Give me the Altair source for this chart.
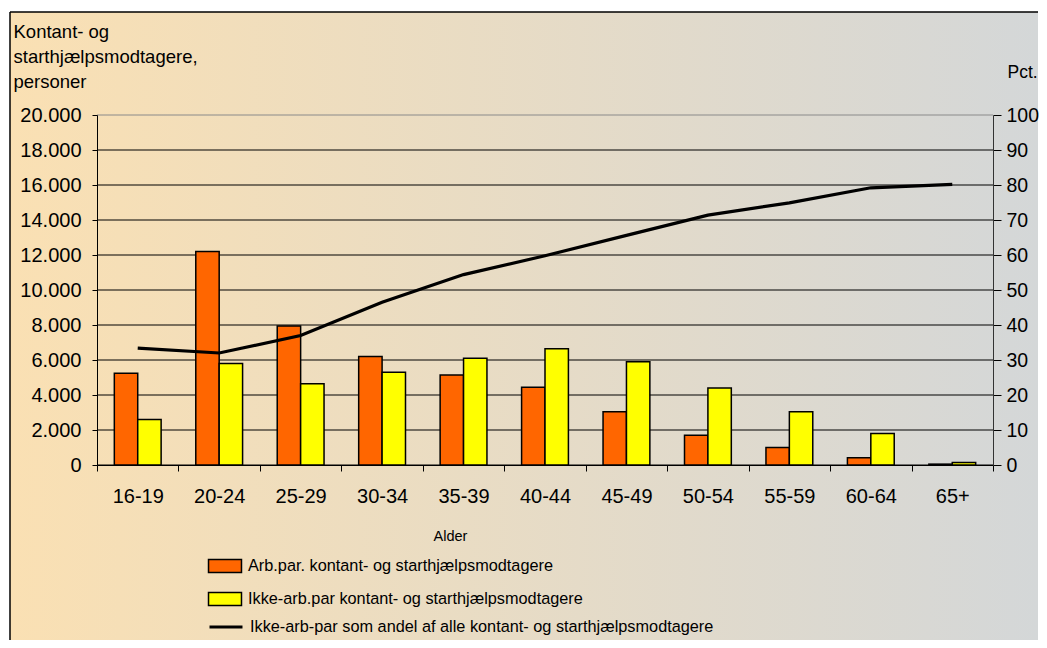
import altair as alt
import pandas as pd

ages = ["16-19", "20-24", "25-29", "30-34", "35-39", "40-44", "45-49", "50-54", "55-59", "60-64", "65+"]
arb = [5250, 12200, 7950, 6200, 5150, 4450, 3050, 1700, 1000, 420, 50]
ikke = [2600, 5800, 4650, 5300, 6100, 6650, 5900, 4400, 3050, 1800, 140]
pct = [33.4, 32.0, 37.0, 46.5, 54.4, 59.8, 65.6, 71.4, 74.9, 79.2, 80.2]

series_names = ["Arb.par. kontant- og starthjælpsmodtagere",
                "Ikke-arb.par kontant- og starthjælpsmodtagere"]
line_name = "Ikke-arb-par som andel af alle kontant- og starthjælpsmodtagere"
bar_colors = ["#FF6600", "#FFFF00"]
left_ticks = list(range(0, 20001, 2000))
right_ticks = list(range(0, 101, 10))
y_title = ["Kontant- og", "starthjælpsmodtagere,", "personer"]

FONT = "Liberation Sans"
W, H = 896, 350
BOTTOM = 525
RIGHT = 941

bars_df = pd.DataFrame({
    "age": ages * 2,
    "series": [series_names[0]] * len(ages) + [series_names[1]] * len(ages),
    "value": arb + ikke,
})
line_df = pd.DataFrame({"age": ages, "series": [line_name] * len(ages), "pct": pct})
grid_df = pd.DataFrame({"v": left_ticks})
one_df = pd.DataFrame({"k": [0]})

gradient = {
    "gradient": "linear", "x1": 0, "x2": 1, "y1": 0, "y2": 0,
    "stops": [{"offset": 0, "color": "#FAE0B3"}, {"offset": 1, "color": "#D4D7D8"}],
}

bg = alt.Chart(one_df).mark_rect(fill=gradient).encode(
    x=alt.value(-87), x2=alt.value(RIGHT), y=alt.value(-103), y2=alt.value(BOTTOM))
border_left = alt.Chart(one_df).mark_rule(color="black", strokeWidth=1.5).encode(
    x=alt.value(-87), y=alt.value(-103), y2=alt.value(BOTTOM))
border_top = alt.Chart(one_df).mark_rule(color="black", strokeWidth=1.5).encode(
    x=alt.value(-87), x2=alt.value(RIGHT), y=alt.value(-103))

x_enc = alt.X(
    "age:N", sort=ages,
    scale=alt.Scale(paddingInner=0, paddingOuter=0),
    axis=alt.Axis(
        title="Alder", labelAngle=0, tickBand="extent", labelFontSize=20,
        labelPadding=15, tickSize=6, titleFontSize=14.5, titleFontWeight="normal",
        titleX=353, titleY=75, titleBaseline="alphabetic", domainColor="black",
        tickColor="black", labelColor="black", titleColor="black", grid=False, zindex=1,
    ),
)

grid = alt.Chart(grid_df).mark_rule(strokeWidth=1).encode(
    y=alt.Y("v:Q", scale=alt.Scale(domain=[0, 20000], nice=False), axis=None),
    color=alt.condition("datum.v == 20000", alt.value("#8a8a8a"), alt.value("black")),
)

bars = alt.Chart(bars_df).mark_bar(stroke="black", strokeWidth=1.5).encode(
    x=x_enc,
    xOffset=alt.XOffset("series:N", sort=series_names,
                        scale=alt.Scale(paddingOuter=0.74, paddingInner=0)),
    y=alt.Y(
        "value:Q", scale=alt.Scale(domain=[0, 20000], nice=False),
        axis=alt.Axis(
            orient="left", title=y_title, values=left_ticks,
            labelExpr="replace(format(datum.value, ','), ',', '.')",
            labelFontSize=20, labelPadding=11, tickSize=5, grid=False,
            titleAngle=0, titleAlign="left", titleBaseline="alphabetic",
            titleX=-84, titleY=-78, titleFontSize=18.5, titleFontWeight="normal",
            titleLineHeight=25, domainColor="black", tickColor="black",
            labelColor="black", titleColor="black", zindex=1,
        ),
    ),
    fill=alt.Fill(
        "series:N", sort=series_names,
        scale=alt.Scale(domain=series_names, range=bar_colors),
        legend=alt.Legend(
            title=None, orient="none", legendX=119, legendY=442, direction="vertical",
            labelFontSize=16.3, labelFont=FONT, labelColor="black", labelLimit=800,
            symbolType="M-2,-0.8L2,-0.8L2,0.8L-2,0.8Z", symbolSize=272,
            symbolStrokeColor="black", symbolStrokeWidth=1.5, symbolOpacity=1,
            labelOffset=14, rowPadding=13, padding=0,
        ),
    ),
)

line = alt.Chart(line_df).mark_line(strokeWidth=3.2).encode(
    x=alt.X("age:N", sort=ages),
    y=alt.Y(
        "pct:Q", scale=alt.Scale(domain=[0, 100], nice=False),
        axis=alt.Axis(
            orient="right", title="Pct.", values=right_ticks, labelFontSize=19.5,
            labelPadding=5, tickSize=8, grid=False, titleAngle=0, titleAlign="left",
            titleBaseline="alphabetic", titleX=14, titleY=-38, titleFontSize=17.5,
            titleFontWeight="normal", domainColor="#333333", tickColor="black",
            labelColor="black", titleColor="black", zindex=1,
        ),
    ),
    stroke=alt.Stroke(
        "series:N",
        scale=alt.Scale(domain=[line_name], range=["black"]),
        legend=alt.Legend(
            title=None, orient="none", legendX=119, legendY=502,
            labelFontSize=16.3, labelFont=FONT, labelColor="black", labelLimit=800,
            symbolType="M-2,0L2,0", symbolSize=272, symbolStrokeWidth=3,
            symbolFillColor="transparent", labelOffset=14, padding=0,
        ),
    ),
)

chart = alt.layer(bg, border_left, border_top, grid, bars, line).resolve_scale(
    y="independent"
).properties(
    width=W, height=H,
    padding={"left": 1, "top": 3, "right": 0, "bottom": 0},
).configure(font=FONT).configure_view(strokeWidth=0)

chart.save("out.html", embed_options={"renderer": "svg", "actions": False})
